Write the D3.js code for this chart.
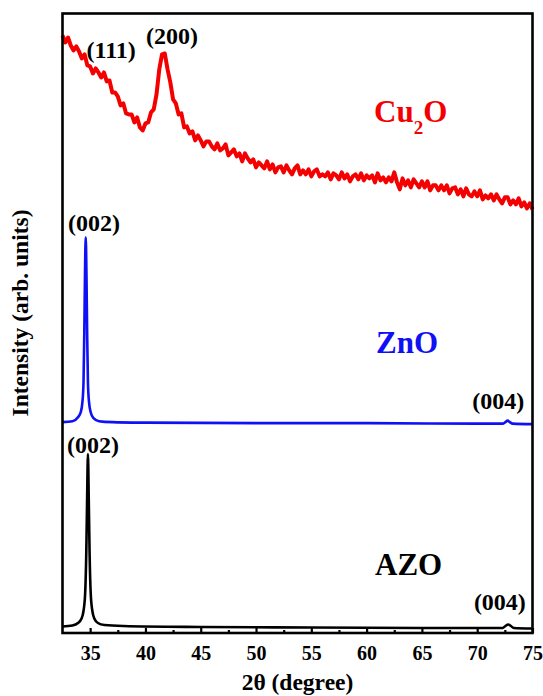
<!DOCTYPE html>
<html>
<head>
<meta charset="utf-8">
<script src="https://cdn.jsdelivr.net/npm/d3@7"></script>
<style>
  body { margin: 0; background: #fff; }
</style>
</head>
<body>
<div id="chart"></div>
<script>
const width = 543;
const height = 696;

const margin = { top: 13.5, right: 10.5, bottom: 63, left: 62.5 };
const fontName = "'Liberation Serif'";

// 2-theta range and tick marks
const xDomain = [32.5, 75];
const majorTicks = [35, 40, 45, 50, 55, 60, 65, 70, 75];
const minorTicks = [37.5, 42.5, 47.5, 52.5, 57.5, 62.5, 67.5, 72.5];

// Cu2O scan, one value every 0.25 degree from 32.5 to 75 (arb. units)
const cu2oStart = 32.5;
const cu2oStep = 0.25;
const cu2oValues = [
  598, 591, 596, 588,
  583, 587, 582, 575,
  579, 568, 567, 560,
  565, 561, 556, 561,
  552, 553, 541, 541,
  537, 528, 530, 520,
  519, 519, 511, 516,
  506, 503, 510, 511,
  521, 524, 539, 564,
  579, 580, 564, 551,
  534, 530, 519, 520,
  506, 507, 500, 502,
  493, 498, 493, 487,
  492, 492, 487, 484,
  490, 483, 485, 489,
  478, 481, 484, 477,
  480, 472, 480, 475,
  471, 474, 466, 471,
  468, 465, 472, 464,
  469, 461, 466, 467,
  461, 468, 463, 459,
  465, 468, 459, 463,
  459, 464, 457, 462,
  464, 457, 459, 457,
  461, 454, 460, 458,
  454, 461, 455, 459,
  452, 457, 459, 454,
  460, 453, 458, 455,
  458, 451, 460, 453,
  456, 451, 456, 452,
  461, 451, 444, 455,
  448, 453, 446, 454,
  450, 446, 452, 446,
  452, 443, 448, 448,
  443, 448, 443, 448,
  440, 445, 446, 439,
  444, 437, 445, 439,
  437, 442, 437, 443,
  434, 438, 435, 439,
  433, 439, 434, 430,
  436, 436, 429, 433,
  429, 435, 427, 431,
  425, 430, 424
];

// ZnO scan [2theta, intensity]
const znoData = [
  [32.5, 211], [33.4, 212], [33.9, 216], [34.15, 221], [34.3, 231],
  [34.4, 251], [34.47, 300], [34.53, 356], [34.6, 396], [34.67, 356],
  [34.73, 300], [34.8, 251], [34.9, 231], [35.05, 221], [35.3, 215],
  [35.8, 212], [37, 211], [40, 210.5], [50, 210], [60, 210],
  [70, 209.5], [72.3, 209.5], [72.55, 211], [72.75, 212.5], [72.95, 211],
  [73.2, 209.5], [75, 209]
];

// AZO scan [2theta, intensity]
const azoData = [
  [32.5, 6.5], [33.4, 7.5], [33.9, 10], [34.2, 14], [34.4, 22],
  [34.55, 40], [34.65, 80], [34.72, 130], [34.8, 179], [34.88, 130],
  [34.95, 80], [35.05, 40], [35.2, 22], [35.4, 14], [35.7, 10],
  [36.3, 8], [38, 7], [45, 6], [55, 5.5], [65, 5],
  [72.3, 5], [72.55, 7], [72.8, 8.5], [73.05, 7], [73.3, 5], [75, 4.5]
];

// peak labels [text, 2theta, intensity]
const peakLabels = [
  ["(111)", 36.9, 575],
  ["(200)", 42.4, 589],
  ["(002)", 35.35, 402],
  ["(002)", 35.26, 180],
  ["(004)", 71.9, 224],
  ["(004)", 72.05, 23]
];

const svg = d3.select("#chart")
  .append("svg")
  .attr("width", width)
  .attr("height", height);

const xScale = d3.scaleLinear()
  .domain(xDomain)
  .range([margin.left, width - margin.right]);

const yScale = d3.scaleLinear()
  .domain([0, 620])
  .range([height - margin.bottom, margin.top]);

const cu2oData = cu2oValues.map(function(v, i) {
  return [cu2oStart + i * cu2oStep, v];
});

const line = d3.line()
  .x(function(d) { return xScale(d[0]); })
  .y(function(d) { return yScale(d[1]); });

const smoothLine = d3.line()
  .curve(d3.curveMonotoneX)
  .x(function(d) { return xScale(d[0]); })
  .y(function(d) { return yScale(d[1]); });

svg.append("path")
  .datum(cu2oData)
  .attr("fill", "none")
  .attr("stroke", "#f50000")
  .attr("stroke-width", 4)
  .attr("stroke-linejoin", "round")
  .attr("d", line);

svg.append("path")
  .datum(znoData)
  .attr("fill", "none")
  .attr("stroke", "#1010f5")
  .attr("stroke-width", 2.6)
  .attr("stroke-linejoin", "round")
  .attr("d", smoothLine);

svg.append("path")
  .datum(azoData)
  .attr("fill", "none")
  .attr("stroke", "#000")
  .attr("stroke-width", 2.6)
  .attr("stroke-linejoin", "round")
  .attr("d", smoothLine);

// frame
svg.append("rect")
  .attr("x", margin.left)
  .attr("y", margin.top)
  .attr("width", width - margin.left - margin.right)
  .attr("height", height - margin.top - margin.bottom)
  .attr("fill", "none")
  .attr("stroke", "#000")
  .attr("stroke-width", 2.6);

// bottom axis, ticks pointing inward
const xAxis = svg.append("g")
  .attr("transform", "translate(0," + (height - margin.bottom) + ")")
  .call(d3.axisBottom(xScale).tickValues(majorTicks).tickSize(-5).tickPadding(13).tickFormat(d3.format("d")));

xAxis.select(".domain").remove();
xAxis.selectAll("line").attr("stroke-width", 2.2);
xAxis.selectAll("text")
  .attr("fill", "#000")
  .attr("font-size", "20px")
  .attr("font-weight", "bold")
  .style("font-family", fontName);

const xMinor = svg.append("g")
  .attr("transform", "translate(0," + (height - margin.bottom) + ")")
  .call(d3.axisBottom(xScale).tickValues(minorTicks).tickSize(-3).tickFormat(""));

xMinor.select(".domain").remove();
xMinor.selectAll("line").attr("stroke-width", 2.2);

// axis titles
svg.append("text")
  .attr("x", (margin.left + width - margin.right) / 2)
  .attr("y", 690)
  .attr("text-anchor", "middle")
  .attr("font-weight", "bold")
  .attr("font-size", "23.5px")
  .style("font-family", fontName)
  .text("2θ (degree)");

svg.append("text")
  .attr("transform", "translate(28,313) rotate(-90)")
  .attr("text-anchor", "middle")
  .attr("font-weight", "bold")
  .attr("font-size", "23.5px")
  .style("font-family", fontName)
  .text("Intensity (arb. units)");

// peak labels
svg.selectAll(".peak-label")
  .data(peakLabels)
  .enter()
  .append("text")
  .attr("class", "peak-label")
  .attr("x", function(d) { return xScale(d[1]); })
  .attr("y", function(d) { return yScale(d[2]); })
  .attr("text-anchor", "middle")
  .attr("fill", "#000")
  .attr("font-weight", "bold")
  .attr("font-size", "24px")
  .style("font-family", fontName)
  .text(function(d) { return d[0]; });

// sample names
const cuLabel = svg.append("text")
  .attr("x", 374)
  .attr("y", 122)
  .attr("fill", "#f50000")
  .attr("font-weight", "bold")
  .attr("font-size", "31px")
  .style("font-family", fontName);
cuLabel.append("tspan").text("Cu");
cuLabel.append("tspan").attr("font-size", "19px").attr("dy", 12).text("2");
cuLabel.append("tspan").attr("dy", -12).text("O");

svg.append("text")
  .attr("x", 376)
  .attr("y", 353)
  .attr("fill", "#1010f5")
  .attr("font-weight", "bold")
  .attr("font-size", "31px")
  .style("font-family", fontName)
  .text("ZnO");

svg.append("text")
  .attr("x", 375)
  .attr("y", 575)
  .attr("fill", "#000")
  .attr("font-weight", "bold")
  .attr("font-size", "31px")
  .style("font-family", fontName)
  .text("AZO");
</script>
</body>
</html>
